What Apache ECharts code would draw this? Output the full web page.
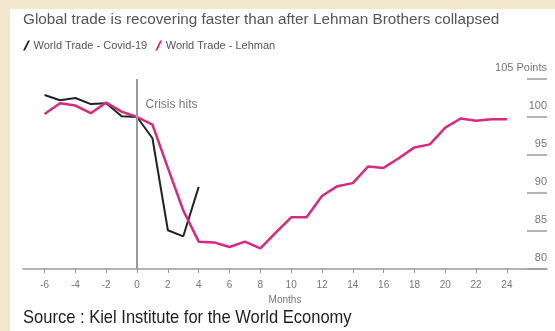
<!DOCTYPE html>
<html>
<head>
<meta charset="utf-8">
<script src="https://cdn.jsdelivr.net/npm/echarts@6/dist/echarts.min.js"></script>
<style>
  html, body { margin: 0; padding: 0; background: #f3e7cd; }
  #chart { width: 555px; height: 331px; }
</style>
</head>
<body>
<div id="chart"></div>
<script>
// Months relative to the crisis
const covidMonths = [-6, -5, -4, -3, -2, -1, 0, 1, 2, 3, 4];
const covidTrade = [102.9, 102.2, 102.5, 101.7, 101.8, 100.1, 100.0, 97.2, 85.1, 84.3, 90.8];

const lehmanMonths = [-6, -5, -4, -3, -2, -1, 0, 1, 2, 3, 4, 5, 6, 7, 8, 9, 10, 11, 12,
  13, 14, 15, 16, 17, 18, 19, 20, 21, 22, 23, 24];
const lehmanTrade = [100.4, 101.8, 101.5, 100.5, 101.9, 100.7, 100.0, 99.0, 93.3, 87.7, 83.6,
  83.5, 82.9, 83.6, 82.7, 84.8, 86.8, 86.8, 89.6, 90.9, 91.3, 93.5, 93.3, 94.6, 96.0,
  96.4, 98.6, 99.8, 99.5, 99.7, 99.7];

const monthTicks = [-6, -4, -2, 0, 2, 4, 6, 8, 10, 12, 14, 16, 18, 20, 22, 24];

const titleText = 'Global trade is recovering faster than after Lehman Brothers collapsed';
const covidName = 'World Trade - Covid-19';
const lehmanName = 'World Trade - Lehman';
const sourceText = 'Source : Kiel Institute for the World Economy';

const zip = (xs, ys) => xs.map((x, i) => [x, ys[i]]);
const slash = 'path://M0,10 L2,10 L7,0 L5,0 Z';

const chart = echarts.init(document.getElementById('chart'), null, { renderer: 'canvas' });
chart.setOption({
  animation: false,
  backgroundColor: '#f3e7cd',
  graphic: [
    { type: 'rect', left: 10, top: 9, shape: { width: 545, height: 322 }, style: { fill: '#ffffff' }, z: -10 },
    { type: 'text', left: 23, top: 308, scaleX: 0.87,
      style: { text: sourceText, font: '19px "Liberation Sans", sans-serif', fill: '#1e1e1e' } }
  ],
  title: {
    text: titleText, left: 18, top: 7,
    textStyle: { fontFamily: 'Liberation Sans', fontSize: 15.3, fontWeight: 'normal', color: '#555555' }
  },
  legend: {
    left: 18, top: 35, itemGap: 8, itemWidth: 8, itemHeight: 10,
    textStyle: { fontFamily: 'Liberation Sans', fontSize: 11, color: '#555555', padding: [0, 0, 0, -2] },
    data: [
      { name: covidName, icon: slash, itemStyle: { color: '#222222' } },
      { name: lehmanName, icon: slash, itemStyle: { color: '#d62a80' } }
    ]
  },
  grid: { left: 23, right: 8, top: 79, bottom: 62 },
  xAxis: {
    type: 'value', min: -7.4, max: 26.6,
    name: 'Months', nameLocation: 'middle', nameGap: 24,
    nameTextStyle: { fontFamily: 'Liberation Sans', fontSize: 10, color: '#777777' },
    axisLine: { onZero: false, lineStyle: { color: '#9a9a9a', width: 1.5 } },
    axisTick: { show: true, customValues: monthTicks, length: 4, lineStyle: { color: '#9a9a9a' } },
    axisLabel: { customValues: monthTicks, fontFamily: 'Liberation Sans', fontSize: 10, color: '#777777', margin: 11 },
    splitLine: { show: false }
  },
  yAxis: {
    type: 'value', position: 'right', min: 80, max: 105, interval: 5,
    axisLine: { show: false, onZero: false },
    axisTick: { show: true, inside: true, length: 20, lineStyle: { color: '#9a9a9a', width: 1.5 } },
    axisLabel: {
      inside: true, margin: 0, verticalAlign: 'bottom', padding: [0, 0, 6, 0],
      fontFamily: 'Liberation Sans', fontSize: 11, color: '#777777',
      formatter: v => (v === 105 ? '105 Points' : String(v))
    },
    splitLine: { show: false }
  },
  series: [
    {
      name: covidName, type: 'line', data: zip(covidMonths, covidTrade),
      symbol: 'none', z: 3,
      lineStyle: { color: '#222222', width: 2 },
      itemStyle: { color: '#222222' },
      markLine: {
        silent: true, symbol: 'none', label: { show: false },
        lineStyle: { color: '#9a9a9a', width: 2, type: 'solid' },
        data: [{ xAxis: 0 }]
      },
      markPoint: {
        silent: true, symbol: 'circle', symbolSize: 0,
        label: { show: true, position: 'right', distance: 0, formatter: 'Crisis hits',
          fontFamily: 'Liberation Sans', fontSize: 12, color: '#777777' },
        data: [{ coord: [0.55, 101.6] }]
      }
    },
    {
      name: lehmanName, type: 'line', data: zip(lehmanMonths, lehmanTrade),
      symbol: 'none', z: 4,
      lineStyle: { color: '#d62a80', width: 2.5 },
      itemStyle: { color: '#d62a80' }
    }
  ]
});
</script>
</body>
</html>
